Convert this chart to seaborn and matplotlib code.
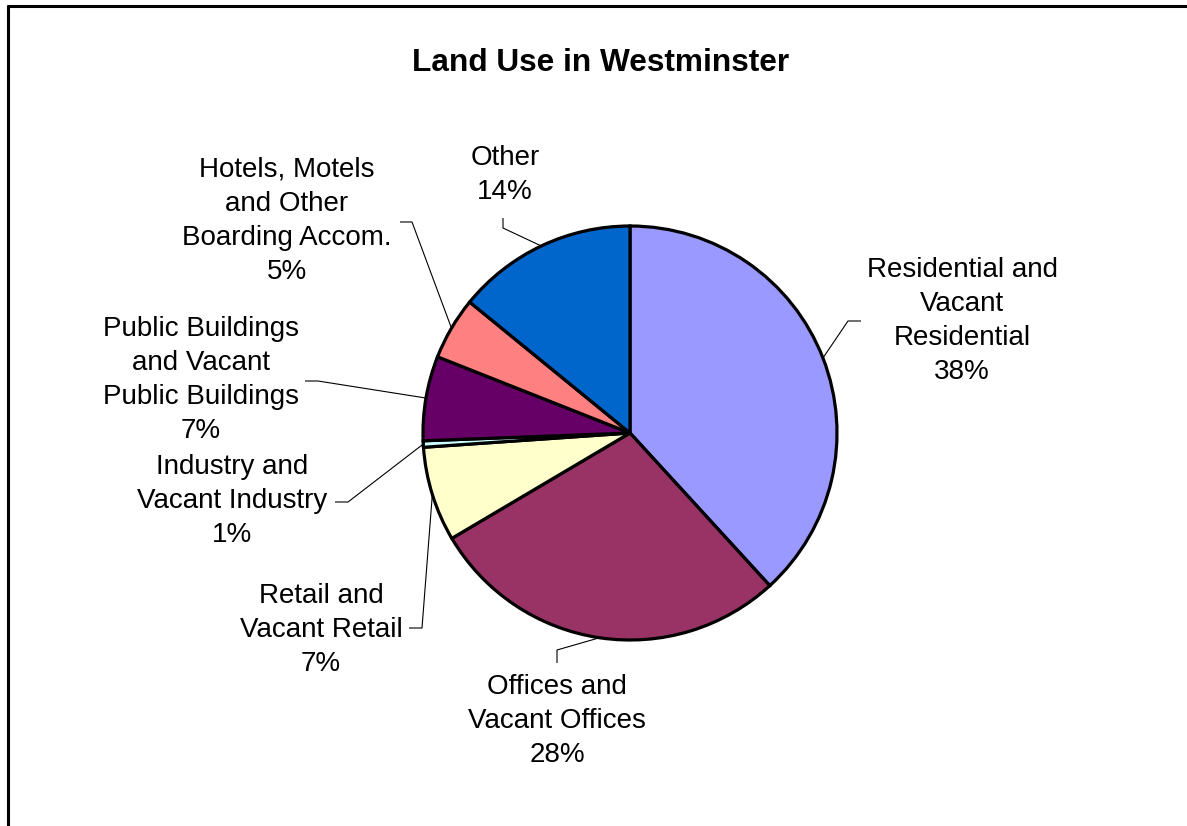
import matplotlib
matplotlib.use("Agg")
import matplotlib.pyplot as plt
from matplotlib.lines import Line2D
import seaborn as sns
import numpy as np

# ---------------- data ----------------
title = "Land Use in Westminster"
categories = ["Residential and Vacant Residential", "Offices and Vacant Offices",
              "Retail and Vacant Retail", "Industry and Vacant Industry",
              "Public Buildings and Vacant Public Buildings",
              "Hotels, Motels and Other Boarding Accom.", "Other"]
label_texts = ["Residential and\nVacant\nResidential",
               "Offices and\nVacant Offices",
               "Retail and\nVacant Retail",
               "Industry and\nVacant Industry",
               "Public Buildings\nand Vacant\nPublic Buildings",
               "Hotels, Motels\nand Other\nBoarding Accom.",
               "Other"]
shares = [38.2, 28.3, 7.4, 0.5, 6.6, 4.9, 14.1]
colors = ["#9999FF", "#993366", "#FFFFCC", "#CCFFFF", "#660066", "#FF8080", "#0066CC"]

# ---------------- layout (pixels) ----------------
W, H = 1187, 826
CX, CY, R = 630, 433, 207
label_pos = [(962, 321), (557, 721), (321, 630), (232, 501), (201, 380), (287, 221), (505, 175)]
leader_pts = [[(848, 321), (861, 321)],
              [(557, 650), (557, 663)],
              [(422, 628), (409, 628)],
              [(348, 502), (335, 502)],
              [(318, 381), (305, 381)],
              [(412, 222), (400, 222)],
              [(503, 228), (503, 218)]]

sns.set_theme(style="white")
plt.rcParams['font.family'] = ['Liberation Sans', 'DejaVu Sans']


def px(x, y):
    return ((x - CX) / R, (CY - y) / R)


fig = plt.figure(figsize=(W / 100, H / 100), dpi=100)
fig.patch.set_facecolor("white")
ax = fig.add_axes([0, 0, 1, 1])

wedges, _ = ax.pie(shares, colors=colors, startangle=90, counterclock=False,
                   radius=1, center=(0, 0),
                   wedgeprops=dict(edgecolor="black", linewidth=2.3))

ax.set_xlim(-CX / R, (W - CX) / R)
ax.set_ylim((CY - H) / R, CY / R)
ax.set_aspect("equal")
ax.axis("off")

total = sum(shares)
for i, w in enumerate(wedges):
    mid = np.deg2rad((w.theta1 + w.theta2) / 2)
    anchor = (np.cos(mid), np.sin(mid))
    pts = [anchor] + [px(*p) for p in leader_pts[i]]
    xs, ys = zip(*pts)
    ax.plot(xs, ys, color="black", lw=0.8, solid_capstyle="butt")
    pct = int(shares[i] / total * 100 + 0.5)
    tx, ty = px(*label_pos[i])
    ax.text(tx, ty, f"{label_texts[i]}\n{pct}%", ha="center", va="center",
            fontsize=20, linespacing=1.4, color="black", multialignment="center")

fig.text(601 / W, 1 - 63 / H, title, ha="center", va="center",
         fontsize=22.8, fontweight="bold", color="black")

# chart-area border (left and top visible)
bx = 7.5 / W
by = 1 - 5.5 / H
fig.add_artist(Line2D([bx, bx], [0, by], transform=fig.transFigure, color="black", lw=2.2))
fig.add_artist(Line2D([bx, 1.0], [by, by], transform=fig.transFigure, color="black", lw=2.2))

fig.savefig("out.png", dpi=100, facecolor="white")
